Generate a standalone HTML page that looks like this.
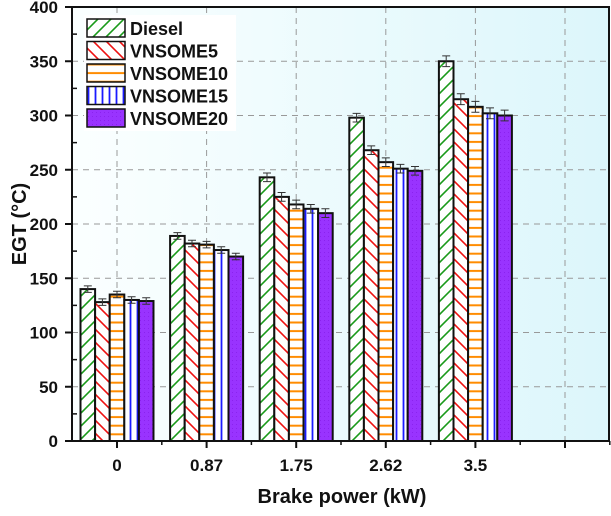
<!DOCTYPE html>
<html><head><meta charset="utf-8"><style>
html,body{margin:0;padding:0;background:#fff;}
svg text{font-family:"Liberation Sans",Arial,sans-serif;font-weight:bold;fill:#111;}
</style></head><body>
<svg width="611" height="511" viewBox="0 0 611 511" xmlns="http://www.w3.org/2000/svg">
<defs>
<linearGradient id="bg" x1="0" x2="1" y1="0" y2="0"><stop offset="0" stop-color="#fbffff"/><stop offset="1" stop-color="#dcf6fb"/></linearGradient>
<pattern id="p0" width="13" height="13" patternUnits="userSpaceOnUse"><rect width="13" height="13" fill="#fff"/><path d="M-2,15 L15,-2 M-8,8 L8,-8 M5,21 L21,5" stroke="#1a9a1a" stroke-width="1.6"/></pattern>
<pattern id="p1" width="13" height="13" patternUnits="userSpaceOnUse"><rect width="13" height="13" fill="#fff"/><path d="M-2,-2 L15,15 M-8,5 L8,21 M5,-8 L21,8" stroke="#ee1111" stroke-width="1.6"/></pattern>
<pattern id="p2" width="10" height="8.6" patternUnits="userSpaceOnUse"><rect width="10" height="8.6" fill="#fff"/><path d="M0,4.3 L10,4.3" stroke="#ff8c00" stroke-width="2"/></pattern>
<pattern id="p3" width="7" height="10" patternUnits="userSpaceOnUse" x="1"><rect width="7" height="10" fill="#fff"/><path d="M3.5,0 L3.5,10" stroke="#1a1aff" stroke-width="1.8"/></pattern>
<pattern id="p4" width="4" height="4" patternUnits="userSpaceOnUse"><rect width="4" height="4" fill="#9933ff"/><rect width="1" height="1" fill="#8a22ee"/></pattern>
</defs>
<rect x="72" y="7" width="537" height="434" fill="url(#bg)"/>
<g id="grid"></g>
<g id="bars"></g>
<rect x="72" y="7" width="537" height="434" fill="none" stroke="#111" stroke-width="2"/>
<g id="axes"></g>
<text x="26" y="224" font-size="20" text-anchor="middle" transform="rotate(-90 26 224)">EGT (°C)</text>
<text x="342" y="503" font-size="20" text-anchor="middle">Brake power (kW)</text>
<g>
<rect x="84" y="15" width="152" height="116" fill="#fff"/>
<g id="legend"></g>
</g>
</svg>
<script>
const categories = ["0","0.87","1.75","2.62","3.5"];
const seriesNames = ["Diesel","VNSOME5","VNSOME10","VNSOME15","VNSOME20"];
const diesel = [140,189,243,298,350];
const vnsome5 = [128,182,225,268,315];
const vnsome10 = [135,181,218,257,308];
const vnsome15 = [130,176,214,251,302];
const vnsome20 = [129,170,210,249,300];
const errors = [3,3,4,4,5];
const yTicks = [0,50,100,150,200,250,300,350,400];
const series = [diesel,vnsome5,vnsome10,vnsome15,vnsome20];
const NS="http://www.w3.org/2000/svg";
const y0=441, ys=434/400;
const yScale=v=>y0-v*ys;
const xCat=i=>117+89.6*i;
const bw=14.6;
function mk(tag,attrs,parent){const e=document.createElementNS(NS,tag);for(const k in attrs)e.setAttribute(k,attrs[k]);parent.appendChild(e);return e;}
const grid=document.getElementById('grid'),bars=document.getElementById('bars'),axes=document.getElementById('axes'),leg=document.getElementById('legend');
yTicks.forEach(v=>{if(v>0&&v<400){const l=mk('line',{x1:72,x2:609,y1:yScale(v),y2:yScale(v),stroke:'#999','stroke-dasharray':'6,5','stroke-width':1},grid);

}
const t=mk('line',{x1:65,x2:72,y1:yScale(v),y2:yScale(v),stroke:'#111','stroke-width':2},axes);


const tx=mk('text',{x:58,y:yScale(v)+6,'font-size':17,'text-anchor':'end'},axes);tx.textContent=v;


if(v<400){const m=mk('line',{x1:72,x2:77,y1:yScale(v+25),y2:yScale(v+25),stroke:'#111','stroke-width':1.5},axes);

}});
for(let i=0;i<6;i++){const x=xCat(i);
const g=mk('line',{x1:x,x2:x,y1:7,y2:441,stroke:'#999','stroke-dasharray':'6,5','stroke-width':1},grid);


const t=mk('line',{x1:x,x2:x,y1:441,y2:448,stroke:'#111','stroke-width':2},axes);


const m=mk('line',{x1:x+44.8,x2:x+44.8,y1:441,y2:445,stroke:'#111','stroke-width':1.5},axes);

}
categories.forEach((c,i)=>{const tx=mk('text',{x:xCat(i),y:471,'font-size':17,'text-anchor':'middle'},axes);tx.textContent=c;

});
series.forEach((s,si)=>{s.forEach((v,i)=>{const x=xCat(i)-2.5*bw+si*bw;
const r=mk('rect',{x:x,y:yScale(v),width:bw,height:y0-yScale(v),fill:'url(#p'+si+')',stroke:'#111','stroke-width':2},bars);


const cx=x+bw/2,e=errors[i],yt=yScale(v+e),yb=yScale(v-e);
const eb=mk('path',{d:`M${cx},${yt}V${yb}M${cx-4},${yt}H${cx+4}M${cx-4},${yb}H${cx+4}`,stroke:'#333','stroke-width':1,fill:'none'},bars);

});});
seriesNames.forEach((n,si)=>{const y=19+si*22.5;
const r=mk('rect',{x:87,y:y,width:38,height:18,fill:'url(#p'+si+')',stroke:'#111','stroke-width':1.5},leg);


const t=mk('text',{x:130,y:y+16,'font-size':18},leg);t.textContent=n;

});
</script>
</body></html>
